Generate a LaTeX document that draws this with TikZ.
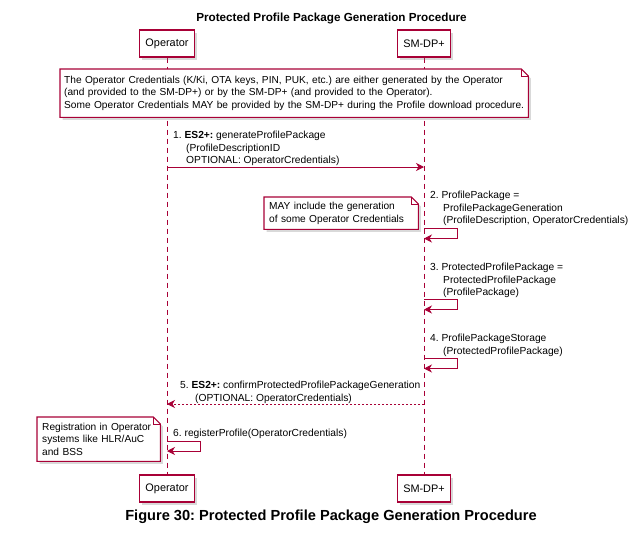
\documentclass[tikz,border=0pt]{standalone}
\usepackage{fontspec}
\setmainfont{Liberation Sans}
\usetikzlibrary{arrows.meta,shadows}
\definecolor{umlred}{HTML}{A80036}
\pgfdeclarelayer{back}
\pgfdeclarelayer{mid}
\pgfsetlayers{back,mid,main}
\frenchspacing

\begin{document}
\begin{tikzpicture}[x=1pt,y=-1pt,
    every node/.style={inner sep=0pt},
    shade/.style={drop shadow={shadow xshift=2.5pt,shadow yshift=-2.5pt,opacity=0.3}},
    actor/.style={draw=umlred,line width=1.2pt,fill=white,shade,minimum height=27pt,
      font=\fontsize{10.9}{13}\selectfont},
    lifeline/.style={umlred,line width=0.8pt,dash pattern=on 5pt off 4pt},
    msg/.style={umlred,line width=0.9pt,-{Stealth[length=8pt,width=8pt,inset=2.5pt]}},
    reply/.style={msg,dash pattern=on 2pt off 2pt},
    msgtext/.style={anchor=north west,align=left,font=\fontsize{10.25}{12.6}\selectfont},
    notetext/.style={anchor=north west,align=left,inner xsep=5pt,font=\fontsize{10.15}{12.6}\selectfont},
    notebox/.style={draw=umlred,line width=1.1pt,fill=white,shade}]
  \useasboundingbox (0,0) rectangle (638,549);

  % Title and participants
  \node[font=\fontsize{11.7}{14}\selectfont\bfseries] (title) at (331.5,18) {Protected Profile Package Generation Procedure};
  \node[actor,minimum width=55pt] (opTop) at (167,43.5) {Operator};
  \node[actor,minimum width=53pt] (smTop) at (424,43.5) {SM-DP+};
  \node[actor,minimum width=55pt] (opBot) at (167,488.5) {Operator};
  \node[actor,minimum width=53pt] (smBot) at (424,488.5) {SM-DP+};

  % Lifelines
  \begin{pgfonlayer}{back}
    \draw[lifeline] (opTop) -- (opBot);
    \draw[lifeline] (smTop) -- (smBot);
  \end{pgfonlayer}

  % Notes
  \node[notetext,inner xsep=4pt,text width=460pt,minimum height=48pt] (note1) at (60,69)
    {\mbox{The Operator Credentials (K/Ki, OTA keys, PIN, PUK, etc.) are either generated by the Operator}\\
     \mbox{(and provided to the SM-DP+) or by the SM-DP+ (and provided to the Operator).}\\
     \mbox{Some Operator Credentials MAY be provided by the SM-DP+ during the Profile download procedure.}};
  \node[notetext,text width=144pt,minimum height=32pt] (note2) at (264,197)
    {MAY include the generation\\of some Operator Credentials};
  \node[notetext,text width=113pt,minimum height=44pt] (note3) at (37,417)
    {Registration in Operator\\systems like HLR/AuC\\and BSS};

  \begin{pgfonlayer}{mid}
    \foreach \n in {note1,note2,note3} {
      \draw[notebox] (\n.north west) -- ([xshift=-7pt]\n.north east) -- ([yshift=-7pt]\n.north east)
        -- (\n.south east) -- (\n.south west) -- cycle;
      \draw[umlred,line width=0.9pt] ([xshift=-7pt]\n.north east) -- ([xshift=-7pt,yshift=-7pt]\n.north east)
        -- ([yshift=-7pt]\n.north east);
    }
  \end{pgfonlayer}

  % Messages
  \node[msgtext] (msg1) at (173,131) {1. \textbf{ES2+:} generateProfilePackage\\
    \hspace*{13pt}(ProfileDescriptionID\\\hspace*{13pt}OPTIONAL: OperatorCredentials)};
  \draw[msg] (opTop.south |- 0,167) -- (smTop.south |- 0,167);

  \node[msgtext] (msg2) at (430,191) {2. ProfilePackage =\\\hspace*{13pt}ProfilePackageGeneration\\
    \hspace*{13pt}(ProfileDescription, OperatorCredentials)};
  \node[msgtext] (msg3) at (430,263) {3. ProtectedProfilePackage =\\\hspace*{13pt}ProtectedProfilePackage\\
    \hspace*{13pt}(ProfilePackage)};
  \node[msgtext] (msg4) at (430,334) {4. ProfilePackageStorage\\\hspace*{13pt}(ProtectedProfilePackage)};
  \foreach \y in {228,299,358}
    \draw[msg] (smTop.south |- 0,\y) -- ++(33,0) -- ++(0,10.5) -- ++(-33,0);

  \node[msgtext] (msg5) at (180,381) {5. \textbf{ES2+:} confirmProtectedProfilePackageGeneration\\
    \hspace*{15pt}(OPTIONAL: OperatorCredentials)};
  \draw[reply] (smTop.south |- 0,404) -- (opTop.south |- 0,404);

  \node[msgtext] (msg6) at (173,429) {6. registerProfile(OperatorCredentials)};
  \draw[msg] (opTop.south |- 0,441) -- ++(33,0) -- ++(0,10) -- ++(-33,0);

  % Caption
  \node[font=\fontsize{14.6}{17}\selectfont\bfseries] (caption) at (331,517) {Figure 30: Protected Profile Package Generation Procedure};
\end{tikzpicture}
\end{document}
